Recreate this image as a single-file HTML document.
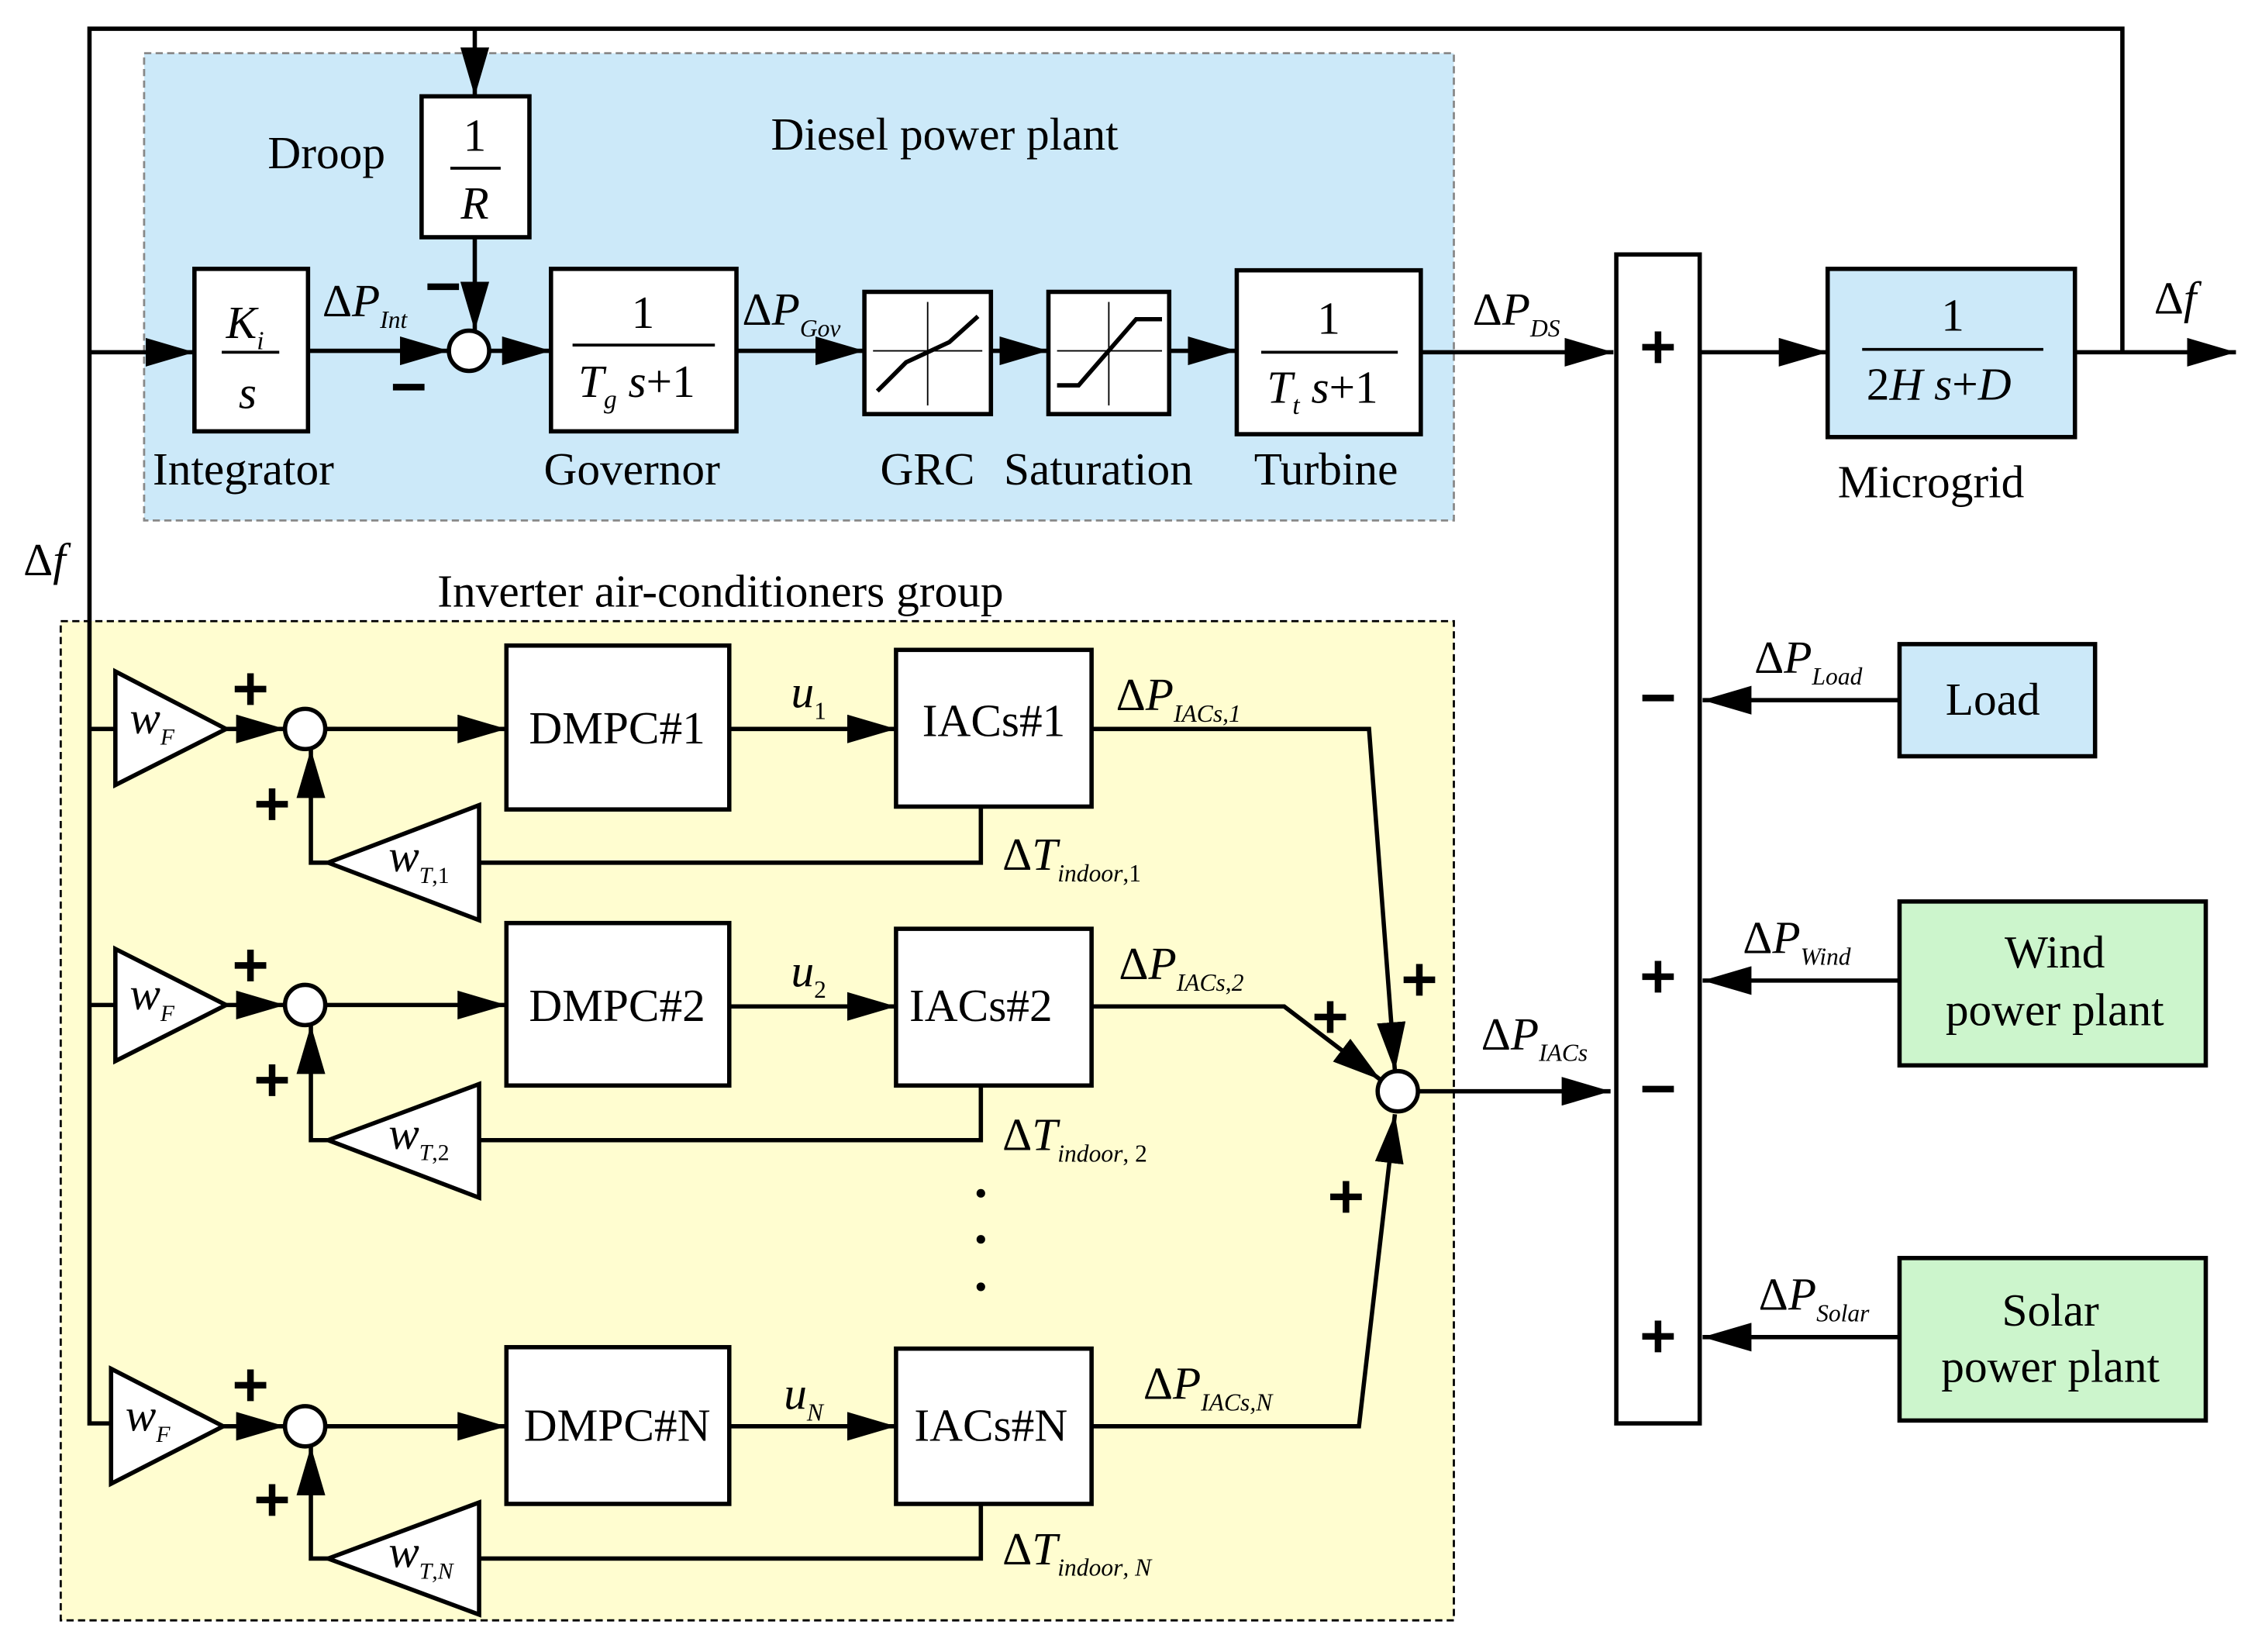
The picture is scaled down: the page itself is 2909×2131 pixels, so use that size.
<!DOCTYPE html>
<html><head><meta charset="utf-8"><style>
html,body{margin:0;padding:0;background:#fff;}
svg{display:block}
text{font-family:"Liberation Serif",serif;fill:#000}
.i{font-style:italic}
</style></head><body>
<svg width="2909" height="2131" viewBox="0 0 1568 1149" xmlns="http://www.w3.org/2000/svg">
<defs>
<marker id="b" viewBox="0 0 10 10" refX="10" refY="5" markerWidth="34" markerHeight="20" markerUnits="userSpaceOnUse" orient="auto" preserveAspectRatio="none"><path d="M0,0 L10,5 L0,10 z" fill="#000"/></marker>
</defs>
<rect width="1568" height="1149" fill="#fff"/>
<rect x="100" y="37" width="911" height="325" fill="#cce9f9" stroke="#888" stroke-width="1.5" stroke-dasharray="5,3"/>
<rect x="42" y="432" width="969" height="695" fill="#fffdd0" stroke="#000" stroke-width="1.5" stroke-dasharray="5,3"/>
<g stroke="#000" stroke-width="3" fill="none">
<polyline points="1476,245 1476,20 62,20 62,990 80,990"/>
<line x1="62" y1="507" x2="80" y2="507"/>
<line x1="62" y1="699" x2="80" y2="699"/>
<line x1="330" y1="20" x2="330" y2="67" marker-end="url(#b)"/>
<line x1="62" y1="245" x2="135" y2="245" marker-end="url(#b)"/>
<rect x="293" y="67" width="75" height="98" fill="#fff"/>
<rect x="135" y="187" width="79" height="113" fill="#fff"/>
<rect x="383" y="187" width="129" height="113" fill="#fff"/>
<rect x="601" y="203" width="88" height="85" fill="#fff"/>
<rect x="729" y="203" width="84" height="85" fill="#fff"/>
<rect x="860" y="188" width="128" height="114" fill="#fff"/>
<rect x="1124" y="177" width="58" height="813" fill="#fff"/>
<rect x="1271" y="187" width="172" height="117" fill="#cce9f9"/>
<rect x="1321" y="448" width="136" height="78" fill="#cce9f9"/>
<rect x="1321" y="627" width="213" height="114" fill="#ccf5cc"/>
<rect x="1321" y="875" width="213" height="113" fill="#ccf5cc"/>
<circle cx="326" cy="244" r="14" fill="#fff"/>
<line x1="214" y1="244" x2="312" y2="244" marker-end="url(#b)"/>
<line x1="330" y1="165" x2="330" y2="230" marker-end="url(#b)"/>
<line x1="340" y1="244" x2="383" y2="244" marker-end="url(#b)"/>
<line x1="512" y1="244" x2="601" y2="244" marker-end="url(#b)"/>
<line x1="689" y1="244" x2="729" y2="244" marker-end="url(#b)"/>
<line x1="813" y1="244" x2="860" y2="244" marker-end="url(#b)"/>
<line x1="988" y1="245" x2="1122" y2="245" marker-end="url(#b)"/>
<line x1="1182" y1="245" x2="1271" y2="245" marker-end="url(#b)"/>
<line x1="1443" y1="245" x2="1555" y2="245" marker-end="url(#b)"/>
<line x1="1321" y1="487" x2="1184" y2="487" marker-end="url(#b)"/>
<line x1="1321" y1="682" x2="1184" y2="682" marker-end="url(#b)"/>
<line x1="1321" y1="930" x2="1184" y2="930" marker-end="url(#b)"/>
<line x1="645" y1="210" x2="645" y2="282" stroke-width="1"/><line x1="607" y1="244" x2="683" y2="244" stroke-width="1"/>
<polyline points="610,272 630,252 660,238 680,220"/>
<line x1="771" y1="210" x2="771" y2="282" stroke-width="1"/><line x1="735" y1="244" x2="808" y2="244" stroke-width="1"/>
<polyline points="735,268 750,268 790,222 808,222"/>
<polygon points="80,467 157,507 80,546" fill="#fff"/>
<line x1="157" y1="507" x2="198" y2="507" marker-end="url(#b)"/>
<circle cx="212" cy="507" r="14" fill="#fff"/>
<line x1="226" y1="507" x2="352" y2="507" marker-end="url(#b)"/>
<rect x="352" y="449" width="155" height="114" fill="#fff"/>
<line x1="507" y1="507" x2="623" y2="507" marker-end="url(#b)"/>
<rect x="623" y="452" width="136" height="109" fill="#fff"/>
<polyline points="682,561 682,600 333,600"/>
<polygon points="333,560 228,600 333,640" fill="#fff"/>
<polyline points="228,600 216,600 216,521" marker-end="url(#b)"/>
<polyline points="759,507 952,507 970,745" marker-end="url(#b)"/>
<polygon points="80,660 157,699 80,738" fill="#fff"/>
<line x1="157" y1="699" x2="198" y2="699" marker-end="url(#b)"/>
<circle cx="212" cy="699" r="14" fill="#fff"/>
<line x1="226" y1="699" x2="352" y2="699" marker-end="url(#b)"/>
<rect x="352" y="642" width="155" height="113" fill="#fff"/>
<line x1="507" y1="700" x2="623" y2="700" marker-end="url(#b)"/>
<rect x="623" y="646" width="136" height="109" fill="#fff"/>
<polyline points="682,755 682,793 333,793"/>
<polygon points="333,754 228,793 333,833" fill="#fff"/>
<polyline points="228,793 216,793 216,713" marker-end="url(#b)"/>
<polyline points="759,700 893,700 960,751" marker-end="url(#b)"/>
<polygon points="77,952 155,992 77,1032" fill="#fff"/>
<line x1="155" y1="992" x2="198" y2="992" marker-end="url(#b)"/>
<circle cx="212" cy="992" r="14" fill="#fff"/>
<line x1="226" y1="992" x2="352" y2="992" marker-end="url(#b)"/>
<rect x="352" y="937" width="155" height="109" fill="#fff"/>
<line x1="507" y1="992" x2="623" y2="992" marker-end="url(#b)"/>
<rect x="623" y="938" width="136" height="108" fill="#fff"/>
<polyline points="682,1046 682,1084 333,1084"/>
<polygon points="333,1045 228,1084 333,1123" fill="#fff"/>
<polyline points="228,1084 216,1084 216,1006" marker-end="url(#b)"/>
<polyline points="759,992 945,992 970,775" marker-end="url(#b)"/>
<circle cx="972" cy="759" r="14" fill="#fff"/>
<line x1="986" y1="759" x2="1120" y2="759" marker-end="url(#b)"/>
<line x1="313" y1="117" x2="348" y2="117" stroke-width="2"/>
<line x1="154" y1="245" x2="194" y2="245" stroke-width="2"/>
<line x1="398" y1="240" x2="497" y2="240" stroke-width="2"/>
<line x1="877" y1="245" x2="972" y2="245" stroke-width="2"/>
<line x1="1295" y1="243" x2="1421" y2="243" stroke-width="2"/>
</g>
<g fill="#000"><circle cx="682" cy="830" r="3"/><circle cx="682" cy="862" r="3"/><circle cx="682" cy="895" r="3"/></g>
<g font-size="32">
<text x="186" y="117">Droop</text>
<text x="536" y="104">Diesel power plant</text>
<text x="330" y="105" text-anchor="middle">1</text>
<text x="330" y="152" text-anchor="middle" class="i">R</text>
<text x="157" y="235" class="i">K<tspan font-size="18" dy="8">i</tspan></text>
<text x="172" y="284" text-anchor="middle" class="i">s</text>
<text x="447" y="228" text-anchor="middle">1</text>
<text x="402" y="276" class="i">T<tspan font-size="18" dy="8">g</tspan><tspan dy="-8"> s</tspan><tspan font-style="normal">+1</tspan></text>
<text x="924" y="232" text-anchor="middle">1</text>
<text x="881" y="280" class="i">T<tspan font-size="18" dy="8">t</tspan><tspan dy="-8"> s</tspan><tspan font-style="normal">+1</tspan></text>
<text x="1358" y="230" text-anchor="middle">1</text>
<text x="1298" y="278">2<tspan class="i">H s</tspan>+<tspan class="i">D</tspan></text>
<text x="106" y="337">Integrator</text>
<text x="378" y="337">Governor</text>
<text x="612" y="337">GRC</text>
<text x="698" y="337">Saturation</text>
<text x="872" y="337">Turbine</text>
<text x="1278" y="346">Microgrid</text>
<text x="1353" y="497">Load</text>
<text x="1429" y="673" text-anchor="middle">Wind</text>
<text x="1429" y="713" text-anchor="middle">power plant</text>
<text x="1426" y="922" text-anchor="middle">Solar</text>
<text x="1426" y="961" text-anchor="middle">power plant</text>
<text x="304" y="422">Inverter air-conditioners group</text>
<text x="429" y="517" text-anchor="middle">DMPC#1</text>
<text x="429" y="710" text-anchor="middle">DMPC#2</text>
<text x="429" y="1002" text-anchor="middle">DMPC#N</text>
<text x="691" y="512" text-anchor="middle">IACs#1</text>
<text x="682" y="710" text-anchor="middle">IACs#2</text>
<text x="689" y="1002" text-anchor="middle">IACs#N</text>
<text x="224" y="220">Δ<tspan class="i">P</tspan><tspan font-size="17" dy="8" class="i">Int</tspan></text>
<text x="516" y="226">Δ<tspan class="i">P</tspan><tspan font-size="17" dy="8" class="i">Gov</tspan></text>
<text x="1024" y="226">Δ<tspan class="i">P</tspan><tspan font-size="17" dy="8" class="i">DS</tspan></text>
<text x="1498" y="218">Δ<tspan class="i">f</tspan></text>
<text x="16" y="400">Δ<tspan class="i">f</tspan></text>
<text x="1220" y="468">Δ<tspan class="i">P</tspan><tspan font-size="17" dy="8" class="i">Load</tspan></text>
<text x="1212" y="663">Δ<tspan class="i">P</tspan><tspan font-size="17" dy="8" class="i">Wind</tspan></text>
<text x="1223" y="911">Δ<tspan class="i">P</tspan><tspan font-size="17" dy="8" class="i">Solar</tspan></text>
<text x="1030" y="730">Δ<tspan class="i">P</tspan><tspan font-size="17" dy="8" class="i">IACs</tspan></text>
<text x="776" y="494">Δ<tspan class="i">P</tspan><tspan font-size="17" dy="8" class="i">IACs,1</tspan></text>
<text x="778" y="681">Δ<tspan class="i">P</tspan><tspan font-size="17" dy="8" class="i">IACs,2</tspan></text>
<text x="795" y="973">Δ<tspan class="i">P</tspan><tspan font-size="17" dy="8" class="i">IACs,N</tspan></text>
<text x="550" y="492" class="i">u<tspan font-size="17" dy="8" font-style="normal">1</tspan></text>
<text x="550" y="686" class="i">u<tspan font-size="17" dy="8" font-style="normal">2</tspan></text>
<text x="545" y="980" class="i">u<tspan font-size="17" dy="8">N</tspan></text>
<text x="697" y="605">Δ<tspan class="i">T</tspan><tspan font-size="17" dy="8" class="i">indoor</tspan><tspan font-size="17">,1</tspan></text>
<text x="697" y="800">Δ<tspan class="i">T</tspan><tspan font-size="17" dy="8" class="i">indoor</tspan><tspan font-size="17">, 2</tspan></text>
<text x="697" y="1088">Δ<tspan class="i">T</tspan><tspan font-size="17" dy="8" class="i">indoor</tspan><tspan font-size="17" class="i">, N</tspan></text>
<text x="90" y="510" class="i">w<tspan font-size="16" dy="8">F</tspan></text>
<text x="90" y="702" class="i">w<tspan font-size="16" dy="8">F</tspan></text>
<text x="87" y="995" class="i">w<tspan font-size="16" dy="8">F</tspan></text>
<text x="270" y="606" class="i">w<tspan font-size="16" dy="8">T</tspan><tspan font-size="16" font-style="normal">,1</tspan></text>
<text x="270" y="799" class="i">w<tspan font-size="16" dy="8">T</tspan><tspan font-size="16" font-style="normal">,2</tspan></text>
<text x="270" y="1090" class="i">w<tspan font-size="16" dy="8">T</tspan><tspan font-size="16">,N</tspan></text>
</g>
<g font-size="44" font-weight="bold" font-family="Liberation Sans,sans-serif" stroke="#000" stroke-width="1.5">
<text x="1153" y="256" text-anchor="middle">+</text>
<text x="1153" y="500" text-anchor="middle">−</text>
<text x="1153" y="694" text-anchor="middle">+</text>
<text x="1153" y="772" text-anchor="middle">−</text>
<text x="1153" y="944" text-anchor="middle">+</text>
<text x="174" y="494" text-anchor="middle">+</text>
<text x="189" y="574" text-anchor="middle">+</text>
<text x="174" y="686" text-anchor="middle">+</text>
<text x="189" y="766" text-anchor="middle">+</text>
<text x="174" y="978" text-anchor="middle">+</text>
<text x="189" y="1058" text-anchor="middle">+</text>
<text x="987" y="696" text-anchor="middle">+</text>
<text x="925" y="722" text-anchor="middle">+</text>
<text x="936" y="847" text-anchor="middle">+</text>
<text x="308" y="214" text-anchor="middle">−</text>
<text x="284" y="284" text-anchor="middle">−</text>
</g>
</svg>
</body></html>
